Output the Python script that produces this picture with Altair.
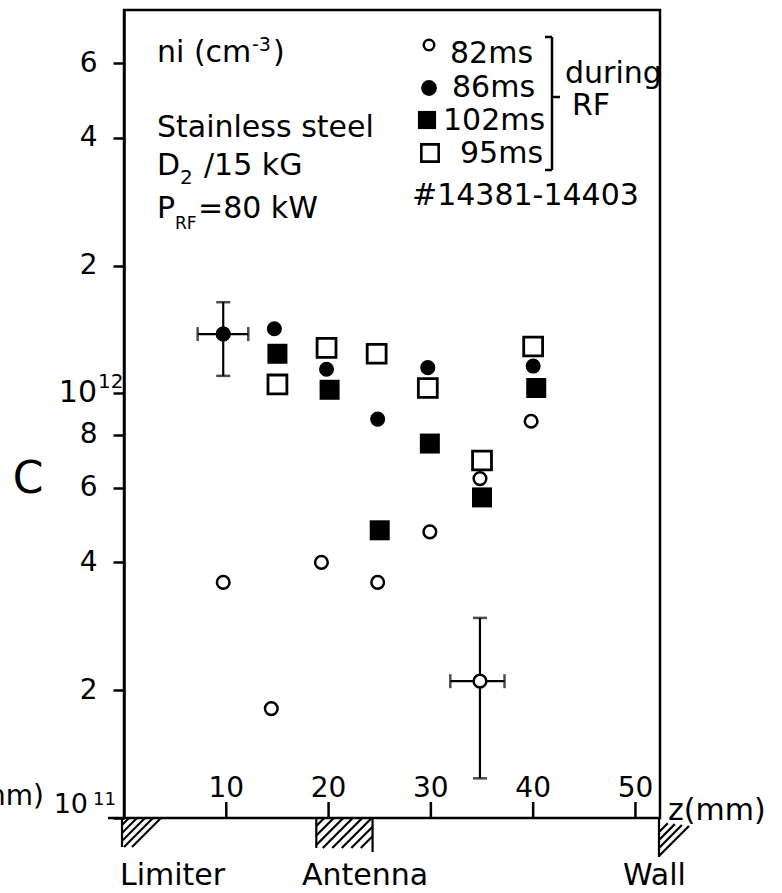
import altair as alt
import pandas as pd

FONT = "DejaVu Sans"

# ---- measured ion densities n_i (cm^-3) versus radial position z (mm) ----
z_82 = [9.7, 14.4, 19.3, 24.8, 29.9, 34.8, 39.8]
n_82 = [3.59e11, 1.81e11, 4.0e11, 3.59e11, 4.72e11, 6.3e11, 8.6e11]

z_86 = [9.7, 14.7, 19.8, 24.8, 29.7, 40.0]
n_86 = [1.38e12, 1.42e12, 1.14e12, 8.7e11, 1.15e12, 1.16e12]

z_102 = [15.0, 20.1, 25.0, 29.9, 35.0, 40.3]
n_102 = [1.24e12, 1.02e12, 4.76e11, 7.62e11, 5.69e11, 1.03e12]

z_95 = [15.0, 19.8, 24.7, 29.7, 35.0, 40.0]
n_95 = [1.05e12, 1.28e12, 1.24e12, 1.03e12, 6.95e11, 1.29e12]

# points carrying error bars
err_series = ["86ms", "82ms"]
err_z = [9.7, 34.8]
err_n = [1.38e12, 2.10e11]
err_z_lo = [7.2, 31.9]
err_z_hi = [12.15, 37.2]
err_n_lo = [1.10e12, 1.24e11]
err_n_hi = [1.64e12, 2.96e11]

x_ticks = [10, 20, 30, 40, 50]
y_ticks = [1e11, 2e11, 4e11, 6e11, 8e11, 1e12, 2e12, 4e12, 6e12]

# machine components along z (mm)
limiter_z = 0.0
antenna_z = (18.8, 24.3)
wall_z = 52.3

W, H = 536, 808
Z_MAX = 52.4
K = W / Z_MAX  # px per mm

x_scale = alt.Scale(domain=[0, Z_MAX], nice=False, zero=False)
y_scale = alt.Scale(type="log", domain=[1e11, 8e12], nice=False)

# mantissa labels; the decade labels are drawn with a raised exponent below
label_expr = (
    "datum.value < 1.5e11 ? '' : datum.value < 3e11 ? '2' : datum.value < 5e11 ? '4' : "
    "datum.value < 7e11 ? '6' : datum.value < 9e11 ? '8' : datum.value < 1.5e12 ? '' : "
    "datum.value < 3e12 ? '2' : datum.value < 5e12 ? '4' : '6'"
)
y_axis = alt.Axis(
    values=y_ticks, labelExpr=label_expr, title=None, grid=False,
    tickSize=11, tickWidth=2.5, tickColor="black", domainColor="black", domainWidth=2.5,
    labelFont=FONT, labelFontSize=28, labelColor="black", labelPadding=16,
    labelOverlap=False, labelFlush=False,
)


def X(field):
    return alt.X(field, type="quantitative", scale=x_scale, axis=None)


def Y(field):
    return alt.Y(field, type="quantitative", scale=y_scale, axis=y_axis)


one = pd.DataFrame({"k": [0]})


def text(s, x, y, size=30, align="left", baseline="alphabetic"):
    return alt.Chart(one).mark_text(
        text=s, align=align, baseline=baseline, fontSize=size, font=FONT, color="black"
    ).encode(x=alt.value(x), y=alt.value(y))


def seg(x1, x2, y1, y2, w=2.5):
    return alt.Chart(one).mark_rule(color="black", strokeWidth=w).encode(
        x=alt.value(x1), x2=alt.value(x2), y=alt.value(y1), y2=alt.value(y2)
    )


df82 = pd.DataFrame({"z": z_82, "n": n_82})
df86 = pd.DataFrame({"z": z_86, "n": n_86})
df102 = pd.DataFrame({"z": z_102, "n": n_102})
df95 = pd.DataFrame({"z": z_95, "n": n_95})
dferr = pd.DataFrame({
    "series": err_series, "z": err_z, "n": err_n,
    "zlo": err_z_lo, "zhi": err_z_hi, "nlo": err_n_lo, "nhi": err_n_hi,
})

# error bars with end caps
err_v = alt.Chart(dferr).mark_rule(color="black", strokeWidth=2.2).encode(x=X("z"), y=Y("nlo"), y2="nhi")
err_h = alt.Chart(dferr).mark_rule(color="black", strokeWidth=2.2).encode(x=X("zlo"), x2="zhi", y=Y("n"))
cap_v1 = alt.Chart(dferr).mark_tick(orient="horizontal", size=14, thickness=2.5, color="black").encode(x=X("z"), y=Y("nlo"))
cap_v2 = alt.Chart(dferr).mark_tick(orient="horizontal", size=14, thickness=2.5, color="black").encode(x=X("z"), y=Y("nhi"))
cap_h1 = alt.Chart(dferr).mark_tick(orient="vertical", size=14, thickness=2.5, color="black").encode(x=X("zlo"), y=Y("n"))
cap_h2 = alt.Chart(dferr).mark_tick(orient="vertical", size=14, thickness=2.5, color="black").encode(x=X("zhi"), y=Y("n"))

sq_open = alt.Chart(df95).mark_point(
    shape="square", filled=True, fill="white", stroke="black", strokeWidth=2.8, size=357, opacity=1
).encode(x=X("z"), y=Y("n"))
sq_full = alt.Chart(df102).mark_point(
    shape="square", filled=True, fill="black", size=400, opacity=1
).encode(x=X("z"), y=Y("n"))
ci_full = alt.Chart(df86).mark_point(
    shape="circle", filled=True, fill="black", size=227, opacity=1
).encode(x=X("z"), y=Y("n"))
ci_open = alt.Chart(df82).mark_point(
    shape="circle", filled=True, fill="white", stroke="black", strokeWidth=2.5, size=160, opacity=1
).encode(x=X("z"), y=Y("n"))
err_open = alt.Chart(dferr).transform_filter(alt.datum.series == "82ms").mark_point(
    shape="circle", filled=True, fill="white", stroke="black", strokeWidth=2.5, size=160, opacity=1
).encode(x=X("z"), y=Y("n"))
err_full = alt.Chart(dferr).transform_filter(alt.datum.series == "86ms").mark_point(
    shape="circle", filled=True, fill="black", size=227, opacity=1
).encode(x=X("z"), y=Y("n"))

# z-axis ticks (pointing inward) and labels
dft = pd.DataFrame({"z": x_ticks, "lab": [str(t) for t in x_ticks]})
xt_rules = alt.Chart(dft).mark_rule(color="black", strokeWidth=2.5).encode(
    x=X("z"), y=alt.value(792), y2=alt.value(H)
)
xt_labels = alt.Chart(dft).mark_text(
    font=FONT, fontSize=28, baseline="alphabetic", align="center", color="black"
).encode(x=X("z"), y=alt.value(787), text="lab:N")

# axis carrier (draws the left log axis)
axis_layer = alt.Chart(pd.DataFrame({"n": [1e11]})).mark_point(opacity=0).encode(
    x=alt.value(0), y=Y("n")
)

legend_marks = [
    alt.Chart(one).mark_point(shape="circle", filled=True, fill="white", stroke="black",
                              strokeWidth=2.5, size=110, opacity=1).encode(x=alt.value(305), y=alt.value(35)),
    alt.Chart(one).mark_point(shape="circle", filled=True, fill="black", size=250,
                              opacity=1).encode(x=alt.value(305), y=alt.value(78)),
    alt.Chart(one).mark_point(shape="square", filled=True, fill="black", size=330,
                              opacity=1).encode(x=alt.value(303), y=alt.value(110)),
    alt.Chart(one).mark_point(shape="square", filled=True, fill="white", stroke="black",
                              strokeWidth=2.6, size=300, opacity=1).encode(x=alt.value(306), y=alt.value(143)),
]

texts = [
    text("ni (cm", 33, 52),
    text("-3", 128, 41, size=19),
    text(")", 149, 52),
    text("Stainless steel", 33, 127),
    text("D", 33, 165),
    text("2", 56, 174, size=20),
    text("/15 kG", 80, 165),
    text("P", 33, 208),
    text("RF", 51, 219, size=17),
    text("=80 kW", 74, 208),
    text("82ms", 326, 53),
    text("86ms", 328, 87),
    text("102ms", 319, 120),
    text("95ms", 336, 153),
    text("#14381-14403", 288, 195),
    text("during", 441, 73),
    text("RF", 448, 105),
    text("C", -96, 470, size=44, align="center", baseline="middle"),
    # decade labels with raised exponents
    text("10", -27, 392, size=30, align="right"),
    text("12", -26, 378, size=20),
    text("10", -36, 803, size=27, align="right"),
    text("11", -31, 795, size=18),
    text("(mm)", -80, 795, size=28, align="right"),
    text("z(mm)", 544, 810),
    text("Limiter", -4, 875),
    text("Antenna", 178, 875),
    text("Wall", 499, 875),
]

bracket = [
    seg(428, 428, 27, 160),
    seg(421, 428, 27, 27),
    seg(421, 428, 160, 160),
    seg(428, 436, 87, 87),
    seg(-16, 0, H, H),
]

main = alt.layer(
    axis_layer, err_v, err_h, cap_v1, cap_v2, cap_h1, cap_h2,
    sq_open, sq_full, ci_full, ci_open, err_open, err_full,
    xt_rules, xt_labels, *legend_marks, *texts, *bracket,
)


# ---- hatched components below the z axis (depth measured in px below the axis) ----
def hatch(poly, spacing, c0, c1):
    """45-degree hatch lines x + d = c clipped to a convex polygon (x in px, d in px)."""
    out = []
    c = c0
    while c <= c1 + 1e-9:
        pts = []
        n = len(poly)
        for i in range(n):
            (ax, ad), (bx, bd) = poly[i], poly[(i + 1) % n]
            fa, fb = ax + ad - c, bx + bd - c
            if fa == 0:
                pts.append((ax, ad))
            if fa * fb < 0:
                t = fa / (fa - fb)
                pts.append((ax + t * (bx - ax), ad + t * (bd - ad)))
        if len(pts) >= 2:
            pts.sort()
            out.append((pts[0], pts[-1]))
        c += spacing
    return out


segs = []
# limiter
lx = limiter_z * K
segs.append(((lx - 2, 0), (lx - 2, 29)))
for p, q in hatch([(lx - 2, 0), (lx + 37, 0), (lx + 8, 29), (lx - 2, 29)], 8, lx + 5, lx + 37):
    segs.append((p, q))
# antenna
a0, a1 = antenna_z[0] * K, antenna_z[1] * K
segs.append(((a0, 0), (a0, 30)))
segs.append(((a1, 0), (a1, 34)))
for p, q in hatch([(a0, 0), (a1, 0), (a1, 30), (a0, 30)], 9.5, a0 + 8, a1 + 22):
    segs.append((p, q))
# wall
wx = wall_z * K
segs.append(((wx, 0), (wx, 39)))
for p, q in hatch([(wx, 4), (wx + 30, 8), (wx, 38)], 8, wx + 14, wx + 38):
    segs.append((p, q))

hatch_df = pd.DataFrame({
    "z1": [s[0][0] / K for s in segs], "z2": [s[1][0] / K for s in segs],
    "d1": [s[0][1] for s in segs], "d2": [s[1][1] for s in segs],
})
depth_scale = alt.Scale(domain=[0, 100], range=[H, H + 100])
deco = alt.Chart(hatch_df).mark_rule(color="black", strokeWidth=2.2).encode(
    x=X("z1"), x2="z2",
    y=alt.Y("d1:Q", scale=depth_scale, axis=None), y2="d2",
)

chart = alt.layer(main, deco).resolve_scale(y="independent").properties(
    width=W, height=H,
    padding={"left": 124, "top": 10, "right": 122, "bottom": 75},
    autosize=alt.AutoSizeParams(type="none"),
).configure_view(stroke="black", strokeWidth=2.5)

chart.save("out.html", embed_options={"renderer": "svg", "actions": False})
